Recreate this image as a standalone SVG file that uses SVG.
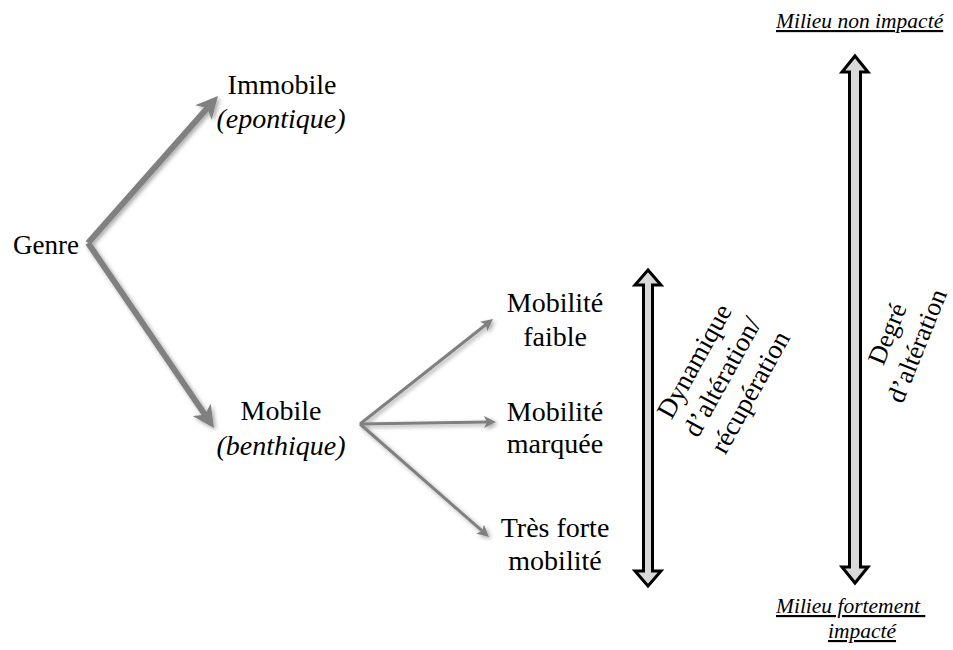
<svg xmlns="http://www.w3.org/2000/svg" width="953" height="650" viewBox="0 0 953 650">
<defs>
<style>
text{font-family:'Liberation Serif','DejaVu Serif',serif}
.t{font-size:28px;fill:#000;text-anchor:middle}
.i{font-style:italic}
.r{font-size:27px;fill:#000;text-anchor:middle}
.d{font-size:26px;fill:#000;text-anchor:middle}
.m{font-size:21.5px;font-style:italic;fill:#000;text-decoration:underline}
.big{stroke:#808080;stroke-width:6;fill:none;marker-end:url(#hb)}
.sm{stroke:#808080;stroke-width:3;fill:none;marker-end:url(#hs)}
.dbl{fill:#d9d9d9;stroke:#000;stroke-width:3;stroke-linejoin:miter}
</style>
<filter id="sh" x="-20%" y="-20%" width="140%" height="140%">
<feDropShadow dx="2" dy="2" stdDeviation="2" flood-color="#000" flood-opacity="0.35"/>
</filter>
<marker id="hb" markerUnits="userSpaceOnUse" markerWidth="24" markerHeight="22" viewBox="0 0 24 22" refX="8" refY="11" orient="auto">
<path d="M0,0 L22,11 L0,22 L6,11 Z" fill="#808080"/>
</marker>
<marker id="hs" markerUnits="userSpaceOnUse" markerWidth="14" markerHeight="12" viewBox="0 0 14 12" refX="4" refY="6" orient="auto">
<path d="M0,0 L12,6 L0,12 L3,6 Z" fill="#808080"/>
</marker>
</defs>
<g id="connectors">
<g filter="url(#sh)">
<line class="big" x1="88" y1="243" x2="208.7" y2="106.5"/>
<line class="big" x1="88" y1="243" x2="206.1" y2="416.4"/>
<line class="sm" x1="360" y1="424" x2="486.7" y2="324"/>
<line class="sm" x1="360" y1="424" x2="488" y2="422"/>
<line class="sm" x1="360" y1="424" x2="483" y2="531.7"/>
</g>
<path id="arrow-dynamique" class="dbl" d="M648,270 L661,285 L652.5,285 L652.5,571 L661,571 L648,586 L635,571 L643.5,571 L643.5,285 L635,285 Z"/>
<path id="arrow-degre" class="dbl" d="M855,56 L868,72 L860.5,72 L860.5,567 L868,567 L855,583 L842,567 L849.5,567 L849.5,72 L842,72 Z"/>
</g>
<g id="genre"><text class="t" x="46" y="254" style="font-size:27px">Genre</text></g>
<g id="immobile"><text class="t" x="282" y="94">Immobile</text><text class="t i" x="281" y="128">(epontique)</text></g>
<g id="mobile"><text class="t" x="281" y="420">Mobile</text><text class="t i" x="281" y="455">(benthique)</text></g>
<g id="mobilite-faible"><text class="t" x="555" y="312">Mobilité</text><text class="t" x="555" y="346">faible</text></g>
<g id="mobilite-marquee"><text class="t" x="555" y="421">Mobilité</text><text class="t" x="555" y="453">marquée</text></g>
<g id="tres-forte"><text class="t" x="555" y="537">Très forte</text><text class="t" x="555" y="570">mobilité</text></g>
<g id="label-dynamique" transform="translate(730,381) rotate(-61)">
<text class="r" x="0" y="-32">Dynamique</text>
<text class="r" x="0" y="0">d’altération/</text>
<text class="r" x="0" y="32">récupération</text>
</g>
<g id="label-degre" transform="translate(910,343) rotate(-68)">
<text class="d" x="0" y="-16">Degré</text>
<text class="d" x="0" y="16">d’altération</text>
</g>
<g id="milieu-non"><text class="m" x="776" y="28">Milieu non impacté</text></g>
<g id="milieu-fort"><text class="m" x="776" y="613" xml:space="preserve">Milieu fortement </text><text class="m" x="862" y="638" style="text-anchor:middle">impacté</text></g>
</svg>
